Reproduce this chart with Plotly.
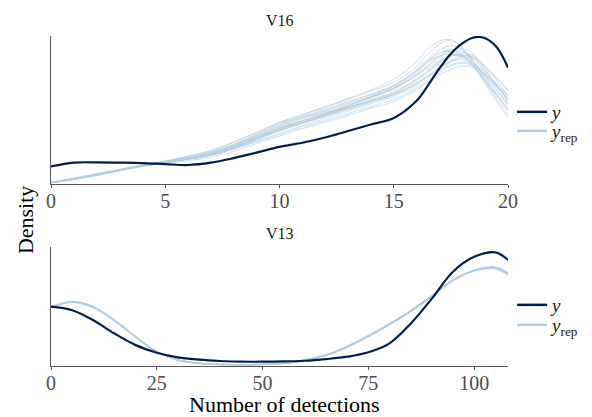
import plotly.graph_objects as go

# ---------------- data ----------------
V16_x = [0, 1, 2, 3, 4, 5, 6, 7, 8, 9, 10, 11, 12, 13, 14,
         15, 16, 16.5, 17, 17.5, 18, 18.5, 19, 19.5, 20]
V16_y = [0.119, 0.145, 0.147, 0.145, 0.142, 0.135, 0.129, 0.145, 0.176, 0.213, 0.252,
         0.280, 0.316, 0.360, 0.404,
         0.448, 0.565, 0.670, 0.785, 0.885, 0.955, 0.995, 0.990, 0.930, 0.790]

V16_rep_01 = [0.010, 0.035, 0.065, 0.095, 0.125, 0.148, 0.172, 0.200, 0.250, 0.310, 0.370, 0.420, 0.470, 0.520, 0.570, 0.620, 0.710, 0.770, 0.830, 0.870, 0.870, 0.820, 0.730, 0.640, 0.550]
V16_rep_02 = [0.008, 0.030, 0.060, 0.092, 0.125, 0.155, 0.188, 0.225, 0.285, 0.350, 0.420, 0.470, 0.520, 0.575, 0.630, 0.690, 0.800, 0.880, 0.950, 0.975, 0.930, 0.830, 0.700, 0.580, 0.470]
V16_rep_03 = [0.012, 0.040, 0.070, 0.098, 0.122, 0.140, 0.158, 0.182, 0.222, 0.275, 0.325, 0.375, 0.420, 0.465, 0.515, 0.560, 0.640, 0.690, 0.740, 0.780, 0.800, 0.790, 0.740, 0.660, 0.580]
V16_rep_04 = [0.010, 0.033, 0.062, 0.094, 0.128, 0.152, 0.176, 0.205, 0.258, 0.322, 0.385, 0.432, 0.480, 0.532, 0.590, 0.645, 0.740, 0.800, 0.860, 0.900, 0.900, 0.850, 0.760, 0.670, 0.580]
V16_rep_05 = [0.009, 0.036, 0.068, 0.100, 0.130, 0.150, 0.168, 0.195, 0.242, 0.300, 0.360, 0.415, 0.468, 0.515, 0.560, 0.605, 0.680, 0.730, 0.790, 0.840, 0.870, 0.860, 0.800, 0.720, 0.630]
V16_rep_06 = [0.011, 0.038, 0.066, 0.093, 0.118, 0.143, 0.170, 0.208, 0.262, 0.325, 0.390, 0.445, 0.495, 0.545, 0.595, 0.655, 0.760, 0.830, 0.890, 0.910, 0.880, 0.800, 0.700, 0.600, 0.510]
V16_rep_07 = [0.010, 0.034, 0.063, 0.096, 0.127, 0.149, 0.171, 0.198, 0.245, 0.305, 0.375, 0.432, 0.478, 0.522, 0.565, 0.610, 0.685, 0.740, 0.790, 0.830, 0.845, 0.820, 0.750, 0.680, 0.600]
V16_rep_08 = [0.010, 0.032, 0.060, 0.090, 0.122, 0.150, 0.180, 0.215, 0.268, 0.335, 0.410, 0.455, 0.485, 0.530, 0.585, 0.650, 0.745, 0.810, 0.870, 0.910, 0.920, 0.880, 0.780, 0.670, 0.560]
V16_rep_09 = [0.012, 0.037, 0.064, 0.091, 0.120, 0.146, 0.170, 0.196, 0.238, 0.290, 0.345, 0.395, 0.445, 0.495, 0.545, 0.595, 0.665, 0.715, 0.770, 0.810, 0.830, 0.810, 0.740, 0.660, 0.580]
V16_rep_10 = [0.009, 0.031, 0.058, 0.090, 0.124, 0.156, 0.190, 0.228, 0.285, 0.350, 0.415, 0.470, 0.525, 0.580, 0.640, 0.710, 0.830, 0.920, 0.970, 0.980, 0.920, 0.810, 0.680, 0.560, 0.450]
V16_rep_11 = [0.010, 0.036, 0.067, 0.097, 0.126, 0.150, 0.174, 0.202, 0.252, 0.315, 0.378, 0.425, 0.472, 0.530, 0.595, 0.665, 0.765, 0.830, 0.870, 0.880, 0.860, 0.800, 0.710, 0.620, 0.530]
V16_rep_12 = [0.011, 0.035, 0.064, 0.094, 0.123, 0.147, 0.170, 0.198, 0.248, 0.308, 0.365, 0.412, 0.460, 0.510, 0.560, 0.615, 0.700, 0.760, 0.820, 0.870, 0.890, 0.870, 0.800, 0.720, 0.640]
V16_rep_13 = [0.010, 0.034, 0.064, 0.096, 0.127, 0.151, 0.175, 0.206, 0.256, 0.318, 0.378, 0.430, 0.482, 0.535, 0.588, 0.645, 0.735, 0.790, 0.840, 0.870, 0.870, 0.830, 0.740, 0.640, 0.540]
V16_rep_14 = [0.011, 0.037, 0.066, 0.095, 0.123, 0.146, 0.169, 0.197, 0.246, 0.305, 0.362, 0.410, 0.458, 0.505, 0.555, 0.605, 0.680, 0.730, 0.780, 0.830, 0.860, 0.850, 0.790, 0.700, 0.600]
V16_rep_15 = [0.009, 0.033, 0.061, 0.092, 0.124, 0.152, 0.181, 0.214, 0.266, 0.330, 0.395, 0.450, 0.500, 0.552, 0.605, 0.665, 0.770, 0.840, 0.890, 0.900, 0.870, 0.790, 0.690, 0.600, 0.500]
V16_rep_16 = [0.010, 0.035, 0.065, 0.096, 0.126, 0.149, 0.172, 0.200, 0.249, 0.312, 0.372, 0.418, 0.466, 0.518, 0.572, 0.628, 0.715, 0.770, 0.830, 0.870, 0.880, 0.850, 0.770, 0.670, 0.570]
V16_rep_17 = [0.011, 0.036, 0.063, 0.092, 0.121, 0.145, 0.168, 0.194, 0.236, 0.288, 0.335, 0.385, 0.432, 0.478, 0.528, 0.575, 0.650, 0.700, 0.755, 0.800, 0.820, 0.800, 0.740, 0.670, 0.600]
V16_rep_18 = [0.009, 0.032, 0.062, 0.095, 0.129, 0.156, 0.184, 0.218, 0.272, 0.338, 0.402, 0.458, 0.508, 0.560, 0.612, 0.672, 0.780, 0.850, 0.910, 0.940, 0.910, 0.830, 0.720, 0.610, 0.500]
V16_reps = [V16_rep_01, V16_rep_02, V16_rep_03, V16_rep_04, V16_rep_05, V16_rep_06,
            V16_rep_07, V16_rep_08, V16_rep_09, V16_rep_10, V16_rep_11, V16_rep_12,
            V16_rep_13, V16_rep_14, V16_rep_15, V16_rep_16, V16_rep_17, V16_rep_18]

V13_x = [0, 5, 10, 15, 20, 25, 30, 35, 40, 45, 50, 55, 60, 65, 70, 75, 80, 85, 90, 95, 100, 105, 108]
V13_y = [0.497, 0.467, 0.383, 0.272, 0.175, 0.111, 0.072, 0.053, 0.042, 0.036, 0.036, 0.039,
         0.044, 0.058, 0.078, 0.115, 0.190, 0.355, 0.565, 0.790, 0.915, 0.952, 0.890]
V13_rep_1 = [0.494, 0.538, 0.494, 0.383, 0.244, 0.119, 0.050, 0.022, 0.014, 0.011, 0.014, 0.022, 0.050, 0.092, 0.161, 0.250, 0.350, 0.460, 0.585, 0.720, 0.800, 0.822, 0.772]
V13_rep_2 = [0.492, 0.534, 0.490, 0.380, 0.242, 0.118, 0.050, 0.022, 0.014, 0.011, 0.014, 0.023, 0.052, 0.095, 0.165, 0.254, 0.354, 0.465, 0.589, 0.723, 0.804, 0.828, 0.778]
V13_rep_3 = [0.496, 0.542, 0.498, 0.386, 0.246, 0.120, 0.051, 0.021, 0.013, 0.010, 0.013, 0.021, 0.048, 0.089, 0.157, 0.246, 0.346, 0.455, 0.581, 0.716, 0.796, 0.817, 0.766]
V13_rep_4 = [0.494, 0.536, 0.492, 0.382, 0.243, 0.119, 0.050, 0.022, 0.014, 0.011, 0.014, 0.022, 0.050, 0.093, 0.163, 0.252, 0.352, 0.462, 0.587, 0.721, 0.802, 0.825, 0.775]
V13_reps = [V13_rep_1, V13_rep_2, V13_rep_3, V13_rep_4]

V16_ticks = [0, 5, 10, 15, 20]
V13_ticks = [0, 25, 50, 75, 100]
panel_titles = ["V16", "V13"]
x_title = "Number of detections"
y_title = "Density"
legend_names = ["<i>y</i>", "<i>y</i><sub>rep</sub>"]

# ---------------- style ----------------
DARK = "#011f4b"
LIGHT = "#b3cde0"
FONT = "Liberation Serif"
AX = "#555555"

fig = go.Figure()

def spline(color, width):
    return dict(color=color, width=width, shape="spline", smoothing=1.0)

for r in V16_reps:
    fig.add_trace(go.Scatter(x=V16_x, y=r, mode="lines", line=spline(LIGHT, 0.7),
                             opacity=0.9, showlegend=False, hoverinfo="skip",
                             xaxis="x", yaxis="y"))
fig.add_trace(go.Scatter(x=V16_x, y=V16_y, mode="lines", line=spline(DARK, 2.2),
                         showlegend=False, xaxis="x", yaxis="y"))

for r in V13_reps:
    fig.add_trace(go.Scatter(x=V13_x, y=r, mode="lines", line=spline(LIGHT, 1.4),
                             showlegend=False, hoverinfo="skip",
                             xaxis="x2", yaxis="y2"))
fig.add_trace(go.Scatter(x=V13_x, y=V13_y, mode="lines", line=spline(DARK, 2.2),
                         showlegend=False, xaxis="x2", yaxis="y2"))

# legend entries: one small legend per item so that the spacing matches
legend_slots = [("legend", "x", "y", 0, DARK, 0.7314),
                ("legend2", "x", "y", 1, LIGHT, 0.6859),
                ("legend3", "x2", "y2", 0, DARK, 0.2686),
                ("legend4", "x2", "y2", 1, LIGHT, 0.2206)]
for leg, xa, ya, k, col, _ in legend_slots:
    fig.add_trace(go.Scatter(x=[None], y=[None], mode="lines", name=legend_names[k],
                             line=dict(color=col, width=2.5), legend=leg,
                             xaxis=xa, yaxis=ya))

tickfont = dict(family=FONT, size=20, color="#4d4d4d")
xcommon = dict(showline=True, linecolor=AX, linewidth=1, ticks="outside", ticklen=3,
               tickcolor=AX, showgrid=False, zeroline=False, tickfont=tickfont,
               ticklabelstandoff=-4, automargin=False)
ycommon = dict(showline=True, linecolor=AX, linewidth=1, ticks="", showticklabels=False,
               showgrid=False, zeroline=False, automargin=False)

legcommon = dict(xref="container", yref="container", x=0.865, xanchor="left",
                 yanchor="middle", bgcolor="rgba(0,0,0,0)",
                 font=dict(family=FONT, size=19, color="#222222"), tracegroupgap=0)
legends = {leg: dict(y=yy, **legcommon) for leg, _, _, _, _, yy in legend_slots}

fig.update_layout(
    width=592, height=417,
    margin=dict(l=51, r=84, t=36, b=51, autoexpand=False),
    plot_bgcolor="white", paper_bgcolor="white",
    font=dict(family=FONT),
    xaxis=dict(domain=[0, 1], anchor="y", range=[0, 20], tickvals=V16_ticks, **xcommon),
    yaxis=dict(domain=[0.5515, 1], anchor="x", range=[0, 1.005], **ycommon),
    xaxis2=dict(domain=[0, 1], anchor="y2", range=[0, 108], tickvals=V13_ticks, **xcommon),
    yaxis2=dict(domain=[0, 0.3615], anchor="x2", range=[0, 1.0], **ycommon),
    annotations=[
        dict(text=panel_titles[0], xref="paper", yref="paper", x=0.5, y=1.048,
             xanchor="center", yanchor="middle", showarrow=False,
             font=dict(family=FONT, size=16, color="#1a1a1a")),
        dict(text=panel_titles[1], xref="paper", yref="paper", x=0.5, y=0.403,
             xanchor="center", yanchor="middle", showarrow=False,
             font=dict(family=FONT, size=16, color="#1a1a1a")),
        dict(text=y_title, xref="paper", yref="paper", x=-0.057, y=0.442,
             xanchor="center", yanchor="middle", textangle=-90, showarrow=False,
             font=dict(family=FONT, size=22, color="black")),
        dict(text=x_title, xref="paper", yref="paper", x=0.512, y=-0.118,
             xanchor="center", yanchor="middle", showarrow=False,
             font=dict(family=FONT, size=22, color="black")),
    ],
    **legends,
)

fig.write_html("out.html", config={"displayModeBar": False},
               post_script="document.body.style.margin='0';document.body.style.overflow='hidden';")
